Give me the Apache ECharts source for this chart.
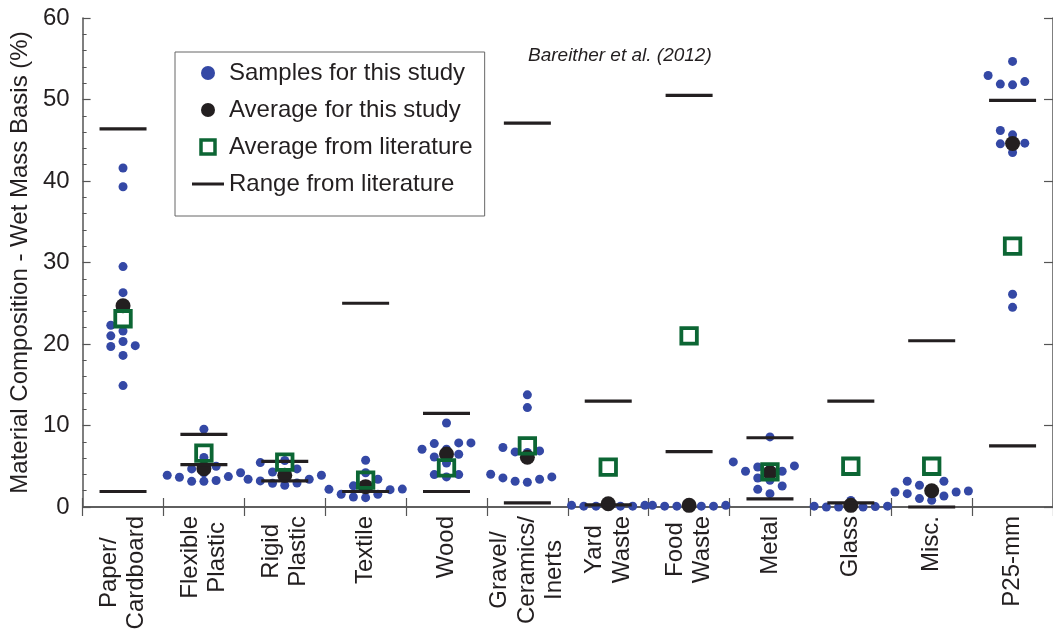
<!DOCTYPE html>
<html><head><meta charset="utf-8">
<script src="https://cdn.jsdelivr.net/npm/echarts@6/dist/echarts.min.js"></script>
<style>html,body{margin:0;padding:0;background:#fff}#c{width:1053px;height:631px}</style>
</head><body><div id="c"></div>
<script>
// ---------- data ----------
const categories = ['Paper/\nCardboard', 'Flexible\nPlastic', 'Rigid\nPlastic', 'Textile', 'Wood',
  'Gravel/\nCeramics/\nInerts', 'Yard\nWaste', 'Food\nWaste', 'Metal', 'Glass', 'Misc.', 'P25-mm'];

const paperSamples    = [41.6, 39.3, 29.5, 26.3, 22.3, 21.6, 21.0, 20.3, 19.8, 19.7, 18.6, 14.9];
const flexibleSamples = [9.55, 6.07, 5.0, 4.67, 4.2, 4.2, 3.9, 3.73, 3.65, 3.25, 3.15, 3.15];
const rigidSamples    = [5.7, 5.45, 4.67, 4.3, 4.2, 3.9, 3.4, 3.4, 3.2, 2.95, 2.9, 2.67];
const textileSamples  = [5.74, 4.2, 3.4, 2.6, 2.54, 2.2, 2.17, 2.13, 1.56, 1.56, 1.23, 1.15];
const woodSamples     = [10.3, 7.86, 7.86, 7.78, 7.09, 7.09, 6.47, 6.14, 5.4, 3.98, 3.98, 3.69];
const gravelSamples   = [13.76, 12.2, 7.3, 6.88, 6.76, 6.7, 4.02, 3.69, 3.57, 3.4, 3.16, 3.03];
const yardSamples     = [0.3, 0.2, 0.2, 0.2, 0.2, 0.2, 0.2, 0.1, 0.1, 0.1, 0.1, 0.1];
const foodSamples     = [0.5, 0.2, 0.2, 0.2, 0.2, 0.2, 0.2, 0.1, 0.1, 0.1, 0.1, 0.1];
const metalSamples    = [8.6, 5.53, 5.04, 4.91, 4.7, 4.39, 4.39, 3.56, 3.28, 2.58, 2.17, 1.64];
const glassSamples    = [0.8, 0.4, 0.33, 0.2, 0.15, 0.1, 0.1, 0.05, 0.0, 0.0, 0.0, 0.0];
const miscSamples     = [3.16, 3.16, 2.67, 2.17, 2.13, 1.97, 1.84, 1.84, 1.64, 1.35, 1.03, 0.82];
const p25Samples      = [54.67, 52.95, 52.2, 51.89, 51.8, 46.2, 45.66, 44.64, 44.56, 43.5, 26.1, 24.5];

const studyAverage      = [24.7, 4.7, 3.9, 2.5, 6.5, 6.1, 0.4, 0.2, 4.2, 0.2, 2.0, 44.6];
const literatureAverage = [23.1, 6.6, 5.5, 3.3, 4.8, 7.5, 4.9, 21.0, 4.3, 5.0, 5.0, 32.0];
const literatureLow     = [1.9, 5.2, 3.2, 1.9, 1.9, 0.5, 0.25, 6.8, 1.0, 0.5, 0.0, 7.5];
const literatureHigh    = [46.4, 8.9, 5.6, 25.0, 11.5, 47.1, 13.0, 50.5, 8.5, 13.0, 20.4, 49.9];

const yTickValues = [0, 10, 20, 30, 40, 50, 60];

const sampleSets = [paperSamples, flexibleSamples, rigidSamples, textileSamples, woodSamples,
  gravelSamples, yardSamples, foodSamples, metalSamples, glassSamples, miscSamples, p25Samples];

// ---------- colours / fonts ----------
const BLUE = '#3448a5', BLACK = '#231f20', GREEN = '#0c6634', AXIS = '#555555';
const FONT = "'Liberation Sans', Arial, Helvetica, sans-serif";
const LABEL_SIZE = 24;

// ---------- beeswarm spreading (computed from the values) ----------
const PX_PER_CAT = 81.36, PX_PER_UNIT = 489 / 60, SLOT_PX = 12.3, MIN_GAP_PX = 10.5, MAX_SLOT = 3;
function swarm(values, catPos) {
  const slots = [0];
  for (let k = 1; k <= MAX_SLOT; k++) slots.push(-k, k);
  const placed = [];
  const order = values.map((v, i) => i).sort((a, b) => values[a] - values[b]);
  order.forEach(i => {
    const v = values[i];
    let chosen = 0;
    for (const s of slots) {
      const ok = placed.every(p => p.s !== s || Math.abs(p.v - v) * PX_PER_UNIT >= MIN_GAP_PX);
      if (ok) { chosen = s; break; }
    }
    placed.push({ s: chosen, v });
  });
  return placed.map(p => [catPos + p.s * SLOT_PX / PX_PER_CAT, p.v]);
}

const catPos = categories.map((c, i) => i + 1);
const sampleData = [];
sampleSets.forEach((vals, i) => swarm(vals, catPos[i]).forEach(d => sampleData.push(d)));
const avgData = studyAverage.map((v, i) => [catPos[i], v]);
const litData = literatureAverage.map((v, i) => [catPos[i], v]);
const rangeData = [];
literatureLow.forEach((v, i) => { rangeData.push([catPos[i], v]); rangeData.push([catPos[i], literatureHigh[i]]); });

const chart = echarts.init(document.getElementById('c'), null, { renderer: 'canvas' });
chart.setOption({
  animation: false,
  backgroundColor: '#fff',
  textStyle: { fontFamily: FONT, color: BLACK },
  title: {
    text: 'Bareither et al. (2012)', left: 523, top: 41,
    textStyle: { fontFamily: FONT, fontStyle: 'italic', fontWeight: 'normal', fontSize: 19, color: BLACK }
  },
  grid: { left: 82, top: 18, right: -5.3, bottom: 124, containLabel: false },
  legend: {
    orient: 'vertical', left: 175, top: 52,
    padding: [9, 12, 20, 17], itemGap: 13,
    itemWidth: 32, itemHeight: 14,
    borderColor: '#666', borderWidth: 1,
    selectedMode: false,
    textStyle: { fontFamily: FONT, fontSize: 24, color: BLACK },
    data: [
      { name: 'Samples for this study', icon: 'circle', itemStyle: { color: BLUE } },
      { name: 'Average for this study', icon: 'circle', itemStyle: { color: BLACK } },
      { name: 'Average from literature', icon: 'path://M0,0h10v10h-10z',
        itemStyle: { color: 'rgba(255,255,255,0)', borderColor: GREEN, borderWidth: 3.5 } },
      { name: 'Range from literature', icon: 'path://M0,0h32v3h-32z', itemStyle: { color: BLACK } }
    ]
  },
  xAxis: [
    {
      // numeric axis used by every series (category i sits at value i + 1)
      type: 'value', min: 0.5, max: 12.5, interval: 1, position: 'top',
      axisLine: { show: true, lineStyle: { color: AXIS, width: 1.5 } },
      axisTick: { show: true, inside: true, length: 9, lineStyle: { color: AXIS, width: 1.2 } },
      axisLabel: { show: false },
      splitLine: { show: false }
    },
    {
      type: 'category', data: categories, position: 'bottom', boundaryGap: true,
      axisLine: { show: true, lineStyle: { color: AXIS, width: 1.5 } },
      axisTick: { show: true, inside: true, length: 9, alignWithLabel: false, lineStyle: { color: AXIS, width: 1.2 } },
      axisLabel: { show: false },
      splitLine: { show: false }
    }
  ],
  yAxis: [
    {
      type: 'value', min: 0, max: 60, interval: 10, position: 'left',
      name: 'Material Composition - Wet Mass Basis (%)', nameLocation: 'middle', nameGap: 49,
      nameTextStyle: { fontFamily: FONT, fontSize: 24, color: BLACK },
      axisLine: { show: true, lineStyle: { color: AXIS, width: 1.5 } },
      axisTick: { show: true, inside: true, length: 8, lineStyle: { color: AXIS, width: 1.2 } },
      minorTick: { show: true, splitNumber: 5, length: 4, lineStyle: { color: AXIS, width: 1 } },
      axisLabel: { fontFamily: FONT, fontSize: 24, color: BLACK, margin: 13,
        formatter: v => (yTickValues.indexOf(v) >= 0 ? String(v) : '') },
      splitLine: { show: false }
    },
    {
      type: 'value', min: 0, max: 60, interval: 10, position: 'right',
      axisLine: { show: true, lineStyle: { color: AXIS, width: 1.5 } },
      axisTick: { show: true, inside: true, length: 9, lineStyle: { color: AXIS, width: 1.2 } },
      axisLabel: { show: false },
      splitLine: { show: false }
    }
  ],
  series: [
    {
      name: 'Samples for this study', type: 'scatter', data: sampleData, z: 2, xAxisIndex: 0, yAxisIndex: 0,
      symbol: 'circle', symbolSize: 9, itemStyle: { color: BLUE, opacity: 1 }
    },
    {
      name: 'Average for this study', type: 'scatter', data: avgData, z: 3, xAxisIndex: 0, yAxisIndex: 0,
      symbol: 'circle', symbolSize: 15, itemStyle: { color: BLACK, opacity: 1 }
    },
    {
      name: 'Range from literature', type: 'scatter', data: rangeData, z: 4, xAxisIndex: 0, yAxisIndex: 0,
      symbol: 'rect', symbolSize: [47, 3.2], itemStyle: { color: BLACK, opacity: 1 }
    },
    {
      name: 'Average from literature', type: 'scatter', data: litData, z: 5, xAxisIndex: 0, yAxisIndex: 0,
      symbol: 'rect', symbolSize: 15.5,
      itemStyle: { color: 'rgba(255,255,255,0)', borderColor: GREEN, borderWidth: 3.8, opacity: 1 }
    }
  ]
});

// ---------- category labels: rotated, lines centred on each other, placed via the axis scale ----------
const measureCtx = document.createElement('canvas').getContext('2d');
measureCtx.font = LABEL_SIZE + 'px "Liberation Sans", Arial, sans-serif';
const axisY = chart.convertToPixel({ yAxisIndex: 0 }, 0);
const LABEL_GAP = 9;
const labelGraphics = categories.map((name, i) => {
  const W = Math.max(...name.split('\n').map(s => measureCtx.measureText(s).width));
  return {
    type: 'text',
    x: chart.convertToPixel({ xAxisIndex: 0 }, catPos[i]),
    y: axisY + LABEL_GAP + W / 2,
    rotation: Math.PI / 2,
    silent: true,
    style: {
      text: name, fontFamily: FONT, fontSize: LABEL_SIZE, fill: BLACK,
      align: 'center', verticalAlign: 'middle', lineHeight: 27.5
    }
  };
});
chart.setOption({ graphic: labelGraphics });
</script></body></html>
